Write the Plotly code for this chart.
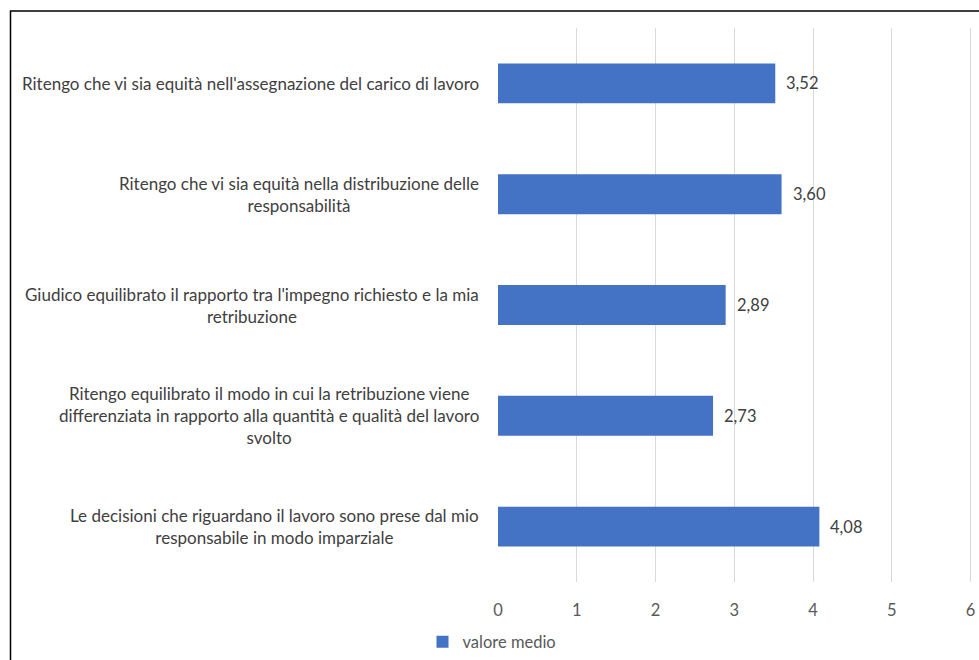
import plotly.graph_objects as go

# Survey items (top to bottom) and their mean scores
items = [
    "Ritengo che vi sia equità nell'assegnazione del carico di lavoro",
    "Ritengo che vi sia equità nella distribuzione delle<br>responsabilità",
    "Giudico equilibrato il rapporto tra l'impegno richiesto e la mia<br>retribuzione",
    "Ritengo equilibrato il modo in cui la retribuzione viene<br>differenziata in rapporto alla quantità e qualità del lavoro<br>svolto",
    "Le decisioni che riguardano il lavoro sono prese dal mio<br>responsabile in modo imparziale",
]
valore_medio = [3.52, 3.60, 2.89, 2.73, 4.08]
x_ticks = [0, 1, 2, 3, 4, 5, 6]

FONT = "Lato, Calibri, Carlito, sans-serif"
BAR = "#4472C4"
TXT = "#404040"

W, H = 979, 660
ML, MR, MT, MB = 498, 6, 28, 78
pw = W - ML - MR
ph = H - MT - MB

fig = go.Figure()
fig.add_trace(go.Bar(
    y=items, x=valore_medio, orientation="h",
    name="valore medio", marker=dict(color=BAR, line=dict(width=0)),
    width=0.36,
))

# value labels next to each bar
for it, v in zip(items, valore_medio):
    fig.add_annotation(x=v, y=it, xref="x", yref="y", text=f"{v:.2f}".replace(".", ","),
                       showarrow=False, xanchor="left", xshift=9,
                       font=dict(family=FONT, size=16.5, color=TXT))

# category labels, centred multi-line blocks right-aligned to the axis
for it in items:
    fig.add_annotation(x=(481 - ML) / pw, y=it, xref="paper", yref="y", text=it,
                       showarrow=False, xanchor="right", align="center",
                       font=dict(family=FONT, size=17, color=TXT))

# chart frame
fig.add_shape(type="rect", xref="paper", yref="paper",
              x0=(10.5 - ML) / pw, x1=(W + 20 - ML) / pw,
              y0=-(MB + 20) / ph, y1=1 + (MT - 11) / ph,
              line=dict(color="#000000", width=1.5), layer="above")

fig.update_layout(
    width=W, height=H,
    margin=dict(l=ML, r=MR, t=MT, b=MB, autoexpand=False),
    paper_bgcolor="white", plot_bgcolor="white",
    separators=",.",
    showlegend=True,
    legend=dict(orientation="h", x=(492 - ML) / pw, xanchor="center",
                y=-(642 - (MT + ph)) / ph, yanchor="middle",
                font=dict(family=FONT, size=16.5, color="#595959"),
                itemwidth=30),
    xaxis=dict(range=[0, 6.03], tickvals=x_ticks, showgrid=True, gridcolor="#D9D9D9",
               gridwidth=1, zeroline=False, showline=False, ticks="",
               ticklabelstandoff=16,
               tickfont=dict(family=FONT, size=16.5, color="#595959"), fixedrange=True),
    yaxis=dict(autorange="reversed", showticklabels=False, showgrid=False,
               zeroline=False, showline=False, ticks=""),
    bargap=0.64,
)

fig.write_html("out.html")
